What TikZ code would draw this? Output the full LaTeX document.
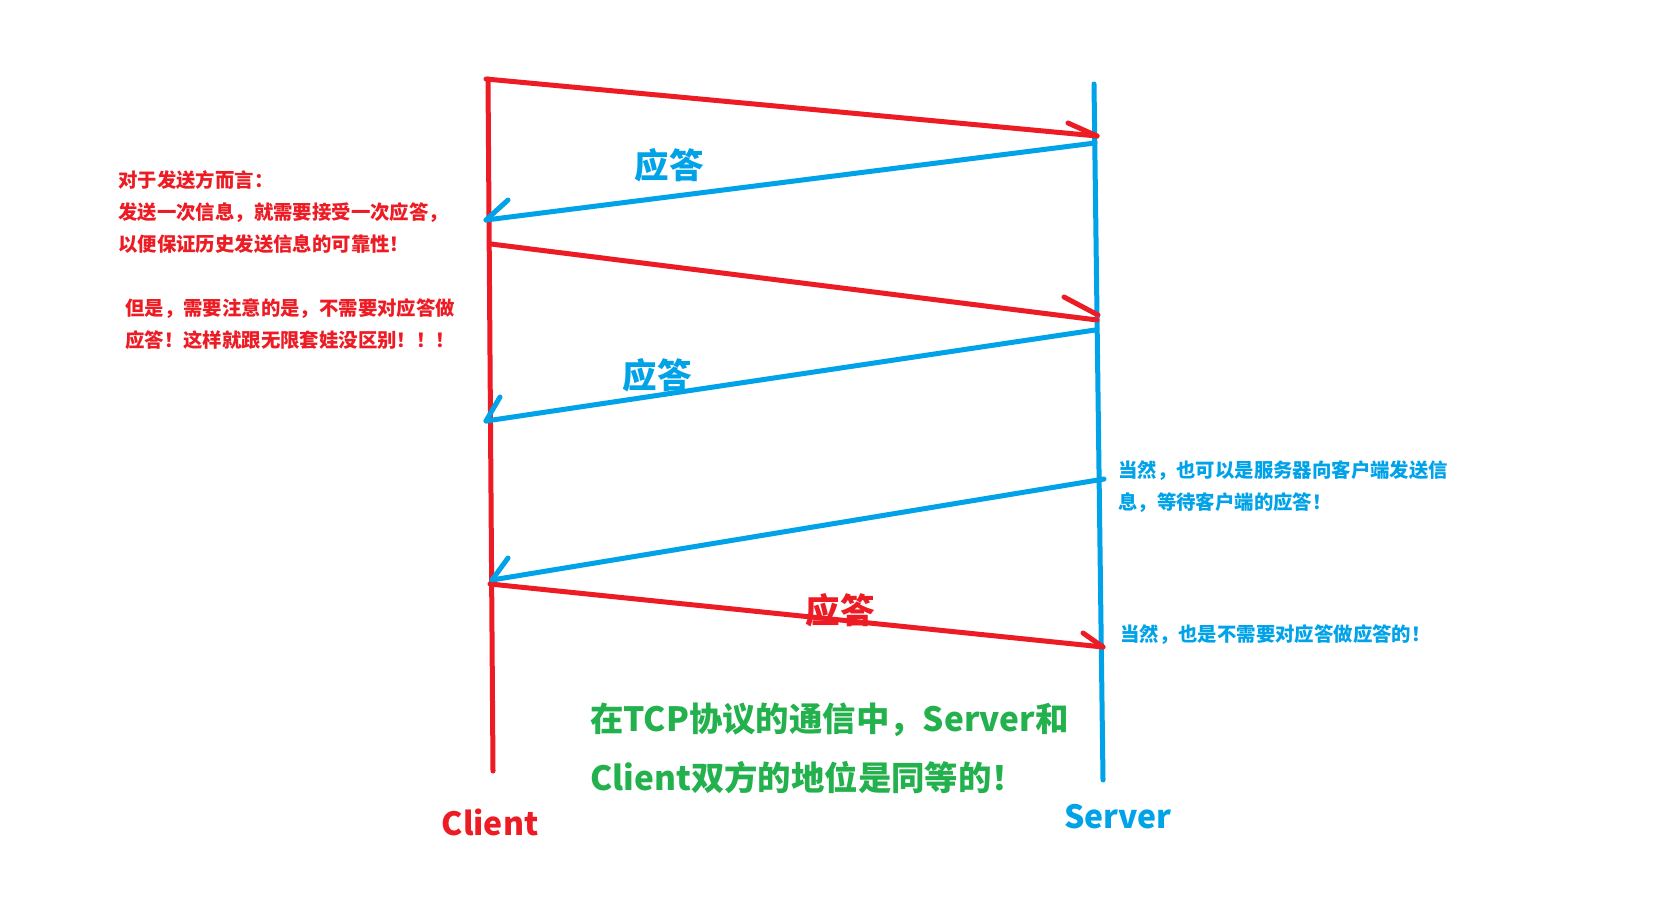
\documentclass[tikz,border=0pt]{standalone}
\usepackage{fontspec}
\setmainfont{Noto Sans CJK SC}
\definecolor{pred}{HTML}{ED1C24}
\definecolor{pblue}{HTML}{00A2E8}
\definecolor{pgreen}{HTML}{22B14C}
\tikzset{
  redline/.style={draw=pred, line width=5pt, line cap=round},
  blueline/.style={draw=pblue, line width=5pt, line cap=round},
  note/.style={anchor=west, align=left, inner sep=0pt, font=\fontsize{19.4}{32}\selectfont\bfseries},
  answer/.style={anchor=center, inner sep=0pt, font=\fontsize{34.5}{34.5}\selectfont\bfseries},
  peer/.style={anchor=center, inner sep=0pt, font=\fontsize{32}{32}\selectfont\bfseries}
}
\begin{document}
\begin{tikzpicture}[x=1pt, y=-1pt]
 \useasboundingbox (0,0) rectangle (1672,897);
 % ends of the two time lines
 \coordinate (ctop) at (488,79);
 \coordinate (cbot) at (493,771);
 \coordinate (stop) at (1094,84);
 \coordinate (sbot) at (1103,780);
 \draw[redline] (ctop)--(cbot);
 \draw[blueline] (stop)--(sbot);
 % ends of the messages
 \coordinate (c1) at (486,79);
 \coordinate (s1) at (1097,136);
 \coordinate (s2) at (1095,143);
 \coordinate (c2) at (486,220);
 \coordinate (c3) at (491,244);
 \coordinate (s3) at (1097,320);
 \coordinate (s4) at (1095,330);
 \coordinate (c4) at (486,421);
 \coordinate (s5) at (1104,479);
 \coordinate (c5) at (492,580);
 \coordinate (c6) at (490,584);
 \coordinate (s6) at (1103,647);
 \draw[redline] (c1)--(s1);
 \draw[blueline] (s2)--(c2);
 \draw[redline] (c3)--(s3);
 \draw[blueline] (s4)--(c4);
 \draw[blueline] (s5)--(c5);
 \draw[redline] (c6)--(s6);
 % hand drawn barbs
 \coordinate (b1) at (1068,123);
 \coordinate (b2) at (508,200);
 \coordinate (b3) at (1064,297);
 \coordinate (t3) at (1098,315);
 \coordinate (b4) at (500,397);
 \coordinate (b5) at (508,558);
 \coordinate (b6) at (1083,633);
 \draw[redline] (b1)--(s1);
 \draw[blueline] (b2)--(c2);
 \draw[redline] (b3)--(t3);
 \draw[blueline] (b4)--(c4);
 \draw[blueline] (b5)--(c5);
 \draw[redline] (b6)--(s6);
 % labels
 \node[answer, text=pblue] (ans1) at (669,165) {应答};
 \node[answer, text=pblue] (ans2) at (657,375) {应答};
 \node[answer, text=pred] (ans3) at (840,610) {应答};
 \node[note, text=pred] (sendnote) at (118,212) {对于发送方而言：\\发送一次信息，就需要接受一次应答，\\以便保证历史发送信息的可靠性！};
 \node[note, text=pred] (warnnote) at (125,324) {但是，需要注意的是，不需要对应答做\\应答！这样就跟无限套娃没区别！！！};
 \node[note, text=pblue] (servnote) at (1118,487) {当然，也可以是服务器向客户端发送信\\息，等待客户端的应答！};
 \node[note, text=pblue] (backnote) at (1120,635) {当然，也是不需要对应答做应答的！};
 \node[note, text=pgreen, font=\fontsize{33.4}{59}\selectfont\bfseries] (tcpnote) at (590,748) {在TCP协议的通信中，Server和\\Client双方的地位是同等的！};
 \node[peer, text=pred] (client) at (490,822) {Client};
 \node[peer, text=pblue] (server) at (1118,817) {Server};
\end{tikzpicture}
\end{document}
